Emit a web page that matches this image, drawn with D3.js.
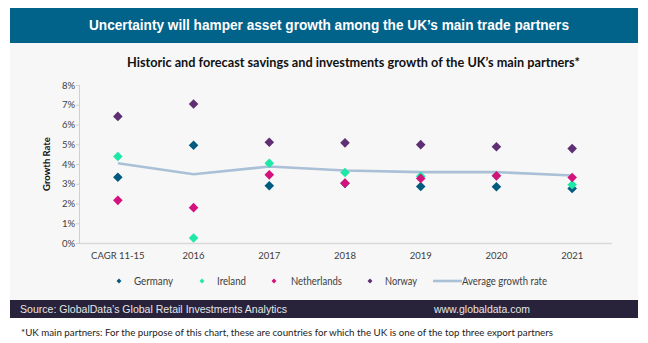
<!DOCTYPE html>
<html>
<head>
<meta charset="utf-8">
<script src="https://cdn.jsdelivr.net/npm/d3@7"></script>
<style>
  body{margin:0;background:#fff;}
  svg{display:block;}
</style>
</head>
<body>
<script>
var categories=["CAGR 11-15","2016","2017","2018","2019","2020","2021"]
var germany=[3.33,4.95,2.90,3.02,2.86,2.85,2.76]
var ireland=[4.38,0.25,4.04,3.57,3.38,3.40,2.95]
var netherlands=[2.16,1.79,3.45,3.03,3.27,3.40,3.32]
var norway=[6.41,7.04,5.10,5.07,4.98,4.87,4.78]
var average=[4.04,3.48,3.87,3.67,3.59,3.59,3.42]
var yTicks=[0,1,2,3,4,5,6,7,8]

var seriesNames=["Germany","Ireland","Netherlands","Norway"]
var seriesColors=["#005b7f","#1ee8a8","#d4127e","#5e2f72"]
var lineColor="#a9c0d6"

var drawChart=function()
{
  var screen={width:648,height:343}
  var margins={top:85,left:80,right:38,bottom:100}
  var height=screen.height-margins.top-margins.bottom
  var width=screen.width-margins.left-margins.right
  var tickFont="Lato, 'Open Sans', sans-serif"
  var narrowFont="'Liberation Sans Narrow', 'Liberation Sans', Arial, sans-serif"

  var svg=d3.select("body").append("svg")
            .attr("width",screen.width)
            .attr("height",screen.height)

  // background panel and title banner
  svg.append("rect").attr("x",10).attr("y",43).attr("width",628).attr("height",257).attr("fill","#f7f7f7")
  svg.append("rect").attr("x",10).attr("y",8).attr("width",628).attr("height",35).attr("fill","#01628a")
  svg.append("text").attr("x",89).attr("y",30)
     .attr("fill","#fff").attr("font-family",narrowFont).attr("font-weight","bold").attr("font-size",14.5)
     .attr("textLength",480).attr("lengthAdjust","spacingAndGlyphs")
     .text("Uncertainty  will hamper asset growth among the UK\u2019s main trade partners")
  svg.append("text").attr("x",127).attr("y",67)
     .attr("fill","#111").attr("font-family",tickFont).attr("font-weight","bold").attr("font-size",12.5)
     .attr("textLength",453).attr("lengthAdjust","spacingAndGlyphs")
     .text("Historic and forecast savings and investments growth of the UK\u2019s main partners*")

  var xScale=d3.scaleBand().domain(categories).range([0,width])
  var yScale=d3.scaleLinear().domain([0,8]).range([height,0])

  var plot=svg.append("g").attr("transform","translate("+margins.left+","+margins.top+")")

  var yAxis=plot.append("g")
     .call(d3.axisLeft(yScale).tickValues(yTicks).tickSize(4).tickFormat(function(d){return d+"%"}))
  yAxis.selectAll("line,path").attr("stroke","#d0d0d0")
  yAxis.select(".domain").attr("d","M-0.5,"+yScale(8)+"V"+yScale(0))
  yAxis.selectAll("text").attr("fill","#404040").attr("font-family",tickFont).attr("font-size",9.5).attr("x",-5)

  var xAxis=plot.append("g").attr("transform","translate(0,"+height+")")
     .call(d3.axisBottom(xScale).tickSize(0).tickPadding(9))
  xAxis.select(".domain").attr("stroke","#d9d9d9").attr("stroke-width",1.5).attr("d","M0,0.5H"+(width+2))
  xAxis.selectAll("text").attr("fill","#404040").attr("font-family",tickFont).attr("font-size",9.5)

  svg.append("text").attr("transform","translate(50,"+(margins.top+height/2)+") rotate(-90)")
     .attr("text-anchor","middle").attr("fill","#111").attr("font-family",tickFont)
     .attr("font-weight","bold").attr("font-size",9.5).text("Growth Rate")

  var cx=function(d,i){return xScale(categories[i])+xScale.bandwidth()/2}

  var line=d3.line().x(cx).y(function(d){return yScale(d)})
  plot.append("path").datum(average).attr("d",line)
      .attr("fill","none").attr("stroke",lineColor).attr("stroke-width",2.6)

  var diamond=d3.symbol().type(d3.symbolSquare).size(46)
  var allSeries=[germany,ireland,netherlands,norway]
  allSeries.forEach(function(values,k){
    plot.selectAll(".s"+k).data(values).enter().append("path")
        .attr("class","s"+k)
        .attr("d",diamond)
        .attr("fill",seriesColors[k])
        .attr("transform",function(d,i){return "translate("+cx(d,i)+","+yScale(d)+") rotate(45)"})
  })

  // legend
  var legendY=281
  var legendX=[119,202,274,370]
  var textX=[134,217,291,385]
  var textW=[39,29,51,32]
  var smallDiamond=d3.symbol().type(d3.symbolSquare).size(12)
  seriesNames.forEach(function(name,k){
    svg.append("path").attr("d",smallDiamond).attr("fill",seriesColors[k])
       .attr("transform","translate("+legendX[k]+","+legendY+") rotate(45)")
    svg.append("text").attr("x",textX[k]).attr("y",legendY+3.8).attr("fill","#404040")
       .attr("font-family",tickFont).attr("font-size",10.5)
       .attr("textLength",textW[k]).attr("lengthAdjust","spacingAndGlyphs").text(name)
  })
  svg.append("line").attr("x1",433).attr("x2",462).attr("y1",legendY).attr("y2",legendY)
     .attr("stroke",lineColor).attr("stroke-width",2.6)
  svg.append("text").attr("x",462).attr("y",legendY+3.8).attr("fill","#404040")
     .attr("font-family",tickFont).attr("font-size",10.5)
     .attr("textLength",85).attr("lengthAdjust","spacingAndGlyphs").text("Average growth rate")

  // source bar and footnote
  svg.append("rect").attr("x",10).attr("y",300).attr("width",628).attr("height",18).attr("fill","#28223a")
  svg.append("text").attr("x",20).attr("y",313).attr("fill","#e6e6e6").attr("font-family",narrowFont)
     .attr("font-size",11).attr("textLength",267).attr("lengthAdjust","spacingAndGlyphs")
     .text("Source: GlobalData\u2019s  Global  Retail  Investments  Analytics")
  svg.append("text").attr("x",434).attr("y",313).attr("fill","#e6e6e6").attr("font-family",narrowFont)
     .attr("font-size",11).attr("textLength",96).attr("lengthAdjust","spacingAndGlyphs").text("www.globaldata.com")
  svg.append("text").attr("x",21).attr("y",336).attr("fill","#222").attr("font-family",tickFont)
     .attr("font-size",9.7).attr("textLength",532).attr("lengthAdjust","spacingAndGlyphs")
     .text("*UK main partners: For the purpose of this chart, these are countries for which the UK is one of the top three export partners")
}

drawChart()
</script>
</body>
</html>
